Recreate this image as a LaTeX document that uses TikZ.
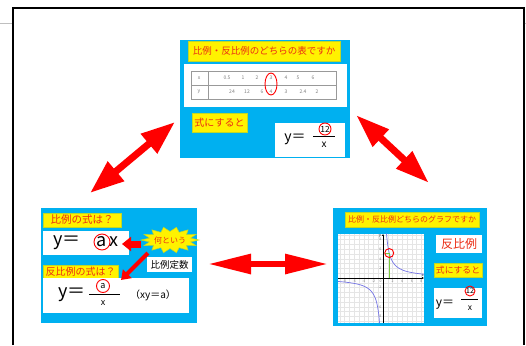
\documentclass[tikz,border=0pt]{standalone}
\usepackage{fontspec}
\setmainfont{Noto Sans CJK JP}
\usetikzlibrary{arrows.meta}
\definecolor{panelblue}{RGB}{0,176,240}
\definecolor{ttlred}{RGB}{235,45,20}
\definecolor{ybord}{RGB}{190,215,40}
\definecolor{curveblue}{RGB}{115,115,230}
\definecolor{glgreen}{RGB}{120,200,60}
\newcommand\myfs[1]{\fontsize{#1}{#1}\selectfont}
\begin{document}
\begin{tikzpicture}[x=1pt,y=-1pt,
  panel/.style={fill=panelblue, draw=none, inner sep=0pt},
  ybox/.style={fill=yellow, draw=ybord, line width=0.6pt, inner sep=0pt, text=ttlred},
  wbox/.style={fill=white, draw=none, inner sep=0pt},
  txt/.style={inner sep=0pt},
  tbltxt/.style={inner sep=0pt, text=gray, font=\myfs{5}},
  ring/.style={draw=red, line width=0.9pt},
  bigarrow/.style={draw=red, line width=#1},
]
\useasboundingbox (0,0) rectangle (526,345);
% frame
\draw[line width=2pt] (13,345) -- (13,8.5) -- (523.5,8.5) -- (523.5,345);
\draw[gray!50, line width=0.7pt] (0,23) -- (12,23);
\draw[gray!50, line width=0.7pt] (524.5,23) -- (526,23);

% ---------- top panel ----------
\node[panel, minimum width=170pt, minimum height=118pt] (ptop) at (265,99) {};
\node[ybox, minimum width=152pt, minimum height=20pt, font=\myfs{9.5}] (ttop) at (264,51) {比例・反比例のどちらの表ですか};
\node[wbox, minimum width=163pt, minimum height=43pt] (tbl) at (265.5,85.5) {};
\draw[gray!80, line width=0.6pt] (191,71) rectangle (336,99);
\draw[gray!80, line width=0.6pt] (191,85) -- (336,85);
\draw[gray!80, line width=0.6pt] (208,71) -- (208,99);
\foreach \v/\xx [count=\i] in {x/199,0.5/227,1/243,2/257,3/271,4/286,5/298,6/313}
  \node[tbltxt] (tx\i) at (\xx,78) {\v};
\foreach \v/\xx [count=\i] in {y/199,24/232,12/247,6/262,4/271,3/286,2.4/303,2/317}
  \node[tbltxt] (ty\i) at (\xx,92) {\v};
\draw[ring] (271,84) ellipse[x radius=6pt, y radius=11pt];
\node[ybox, minimum width=55pt, minimum height=19pt, font=\myfs{10}] (tsiki) at (219.5,122.5) {式にすると};
\node[wbox, minimum width=70pt, minimum height=34pt] (tform) at (310,140) {};
\node[txt, font=\myfs{14}] (tyeq) at (295,139) {y＝};
\node[txt, font=\myfs{8.5}] (tnum) at (325,129) {12};
\draw[ring] (tnum.center) circle[radius=6pt];
\draw[line width=0.8pt] (313,136.5) -- (335,136.5);
\node[txt, font=\myfs{10}] (tden) at (324,145) {x};

% ---------- left panel ----------
\node[panel, minimum width=156pt, minimum height=115pt] (pleft) at (119,265.5) {};
\node[ybox, minimum width=78pt, minimum height=14pt, font=\myfs{10.5}] (lq1) at (82,220) {比例の式は？};
\node[wbox, minimum width=86pt, minimum height=24pt] (lf1) at (86,243) {};
\node[txt, font=\myfs{18}] (lyeq1) at (67,243) {y＝};
\node[txt, font=\myfs{18}] (la1) at (102,242) {a};
\draw[ring] (la1.center) circle[radius=8pt];
\node[txt, font=\myfs{18}] (lx1) at (114,242) {x};
% starburst
\fill[yellow, draw=ybord, line width=0.5pt] plot[variable=\t, samples at={0,...,27}]
  ({170+ifthenelse(mod(\t,2)==0,29,21)*cos(\t*360/28)},{240+ifthenelse(mod(\t,2)==0,13,8.5)*sin(\t*360/28)}) -- cycle;
\node[txt, text=ttlred, font=\myfs{8}] (star) at (170,240) {何という};
\node[wbox, minimum width=45pt, minimum height=15pt, font=\myfs{9.5}] (teisu) at (169.5,264.5) {比例定数};
\node[ybox, minimum width=75pt, minimum height=13pt, font=\myfs{10}] (lq2) at (80.5,271.5) {反比例の式は？};
\node[wbox, minimum width=146pt, minimum height=35pt] (lf2) at (116,295.5) {};
\node[txt, font=\myfs{18}] (lyeq2) at (72,295) {y＝};
\node[txt, font=\myfs{9}] (la2) at (103,286) {a};
\draw[ring] (la2.center) circle[radius=6.5pt];
\draw[line width=0.8pt] (89,294.5) -- (120,294.5);
\node[txt, font=\myfs{9}] (lx2) at (103,303.5) {x};
\node[txt, font=\myfs{10}] (lxy) at (153,295) {（xy＝a）};
\coordinate (arA1) at (141,244);
\coordinate (arA2) at (122,244);
\draw[bigarrow=7pt, -{Triangle[length=9pt,width=14pt]}] (arA1) -- (arA2);
\coordinate (arB1) at (148,253);
\coordinate (arB2) at (121,280);
\draw[bigarrow=4pt, -{Triangle[length=9pt,width=12pt]}] (arB1) -- (arB2);

% ---------- right panel ----------
\node[panel, minimum width=154pt, minimum height=118pt] (pright) at (410,267) {};
\node[ybox, minimum width=134pt, minimum height=15pt, font=\myfs{8}] (rttl) at (412,219.5) {比例・反比例どちらのグラフですか};
\node[wbox, minimum width=86pt, minimum height=89pt] (graph) at (381,278.5) {};
\begin{scope}[shift={(383,278)}, x=4.8pt, y=4.8pt]
  \clip (-9.375,-9.375) rectangle (8.54,9.17);
  \draw[gray!20, line width=0.4pt, step=1] (-9.375,-9.375) grid (8.54,9.17);
  \draw[line width=0.5pt, -{Latex[length=2pt,width=2pt]}] (-9.375,0) -- (8.54,0);
  \draw[line width=0.5pt, -{Latex[length=2pt,width=2pt]}] (0,-9.375) -- (0,9.17);
  \foreach \k in {-8,-6,-4,-2,2,4,6,8} {
    \node[txt, text=gray, font=\myfs{3.5}] at (\k,-0.7) {\k};
    \node[txt, text=gray, font=\myfs{3.5}, anchor=east] at (-0.3,\k) {\k};
  }
  \node[txt, text=gray, font=\myfs{3.5}] at (-0.5,-0.7) {0};
  \node[txt, font=\myfs{3.5}] at (-0.6,8.7) {y};
  \node[txt, font=\myfs{3.5}] at (8.3,0.6) {x};
  \draw[curveblue, line width=0.7pt, domain=0.73:8.6, samples=80, smooth] plot (\x,{6.77/\x});
  \draw[curveblue, line width=0.7pt, domain=-9.4:-0.72, samples=80, smooth] plot (\x,{6.77/\x});
  \draw[glgreen, line width=1pt] (1.3,0) -- (1.3,5.2);
  \draw[glgreen, line width=1pt] (0.4,5.2) -- (1.3,5.2);
  \draw[ring] (1.3,5.2) circle[radius=4.5pt];
\end{scope}
\node[wbox, minimum width=46pt, minimum height=18pt, text=ttlred, font=\myfs{12}] (rhan) at (459,244) {反比例};
\node[ybox, minimum width=48pt, minimum height=14pt, font=\myfs{8.8}] (rsiki) at (458,270) {式にすると};
\node[wbox, minimum width=48pt, minimum height=30pt] (rform) at (458,303) {};
\node[txt, font=\myfs{12}] (ryeq) at (445,305) {y＝};
\node[txt, font=\myfs{7.5}] (rnum) at (470,291) {12};
\draw[ring] (rnum.center) circle[radius=5pt];
\draw[line width=0.8pt] (461,299.5) -- (478,299.5);
\node[txt, font=\myfs{8.5}] (rden) at (470,308) {x};

% ---------- big double arrows ----------
\coordinate (d1a) at (90,193);
\coordinate (d1b) at (175,122);
\draw[bigarrow=7pt, {Triangle[length=34pt,width=24pt]}-{Triangle[length=34pt,width=24pt]}] (d1a) -- (d1b);
\coordinate (d2a) at (356,115);
\coordinate (d2b) at (429,183);
\draw[bigarrow=7pt, {Triangle[length=34pt,width=22pt]}-{Triangle[length=34pt,width=22pt]}] (d2a) -- (d2b);
\coordinate (d3a) at (208,264);
\coordinate (d3b) at (328,264);
\draw[bigarrow=6pt, {Triangle[length=43pt,width=19pt]}-{Triangle[length=43pt,width=19pt]}] (d3a) -- (d3b);
\end{tikzpicture}
\end{document}
